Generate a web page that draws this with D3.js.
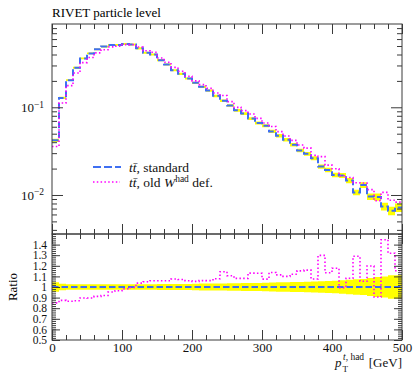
<!DOCTYPE html>
<meta charset="utf-8">
<body style="margin:0;background:#fff">
<svg width="415" height="375"></svg>
<script src="https://cdn.jsdelivr.net/npm/d3@7"></script>
<script>
  // 10 GeV bins, 0..500
  var binLow = d3.range(0, 500, 10);
  var binWidth = 10;

  var stdVals = [0.042, 0.128, 0.204, 0.283, 0.361, 0.412, 0.458, 0.492, 0.513, 0.515,
    0.527, 0.520, 0.470, 0.420, 0.400, 0.345, 0.308, 0.265, 0.241, 0.213,
    0.190, 0.171, 0.155, 0.135, 0.119, 0.105, 0.0924, 0.0847, 0.0743, 0.0662,
    0.0617, 0.0531, 0.0474, 0.0427, 0.0374, 0.0322, 0.0295, 0.0263, 0.0211, 0.0193,
    0.0169, 0.0167, 0.0146, 0.0107, 0.0130, 0.0096, 0.0095, 0.0074, 0.0066, 0.0072];

  var stdErr = [0.045, 0.030, 0.025, 0.025, 0.025, 0.025, 0.025, 0.025, 0.025, 0.025,
    0.026, 0.026, 0.027, 0.027, 0.027, 0.028, 0.028, 0.028, 0.029, 0.029,
    0.031, 0.032, 0.032, 0.033, 0.034, 0.035, 0.036, 0.037, 0.038, 0.038,
    0.040, 0.042, 0.044, 0.045, 0.047, 0.048, 0.050, 0.052, 0.055, 0.057,
    0.060, 0.064, 0.068, 0.072, 0.076, 0.085, 0.095, 0.100, 0.110, 0.110];

  var oldVals = [0.0357, 0.1119, 0.1765, 0.2462, 0.3235, 0.3692, 0.4177, 0.4526, 0.4889, 0.4970,
    0.5186, 0.5179, 0.4874, 0.4410, 0.4236, 0.3654, 0.3262, 0.2849, 0.2579, 0.2256,
    0.2001, 0.1813, 0.1643, 0.1455, 0.1361, 0.1161, 0.0999, 0.0916, 0.0840, 0.0748,
    0.0663, 0.0604, 0.0528, 0.0470, 0.0419, 0.0371, 0.0342, 0.0283, 0.0274, 0.0219,
    0.0199, 0.0166, 0.0158, 0.0138, 0.0137, 0.0115, 0.0086, 0.0107, 0.0087, 0.0083];

  var xMajor = [0, 100, 200, 300, 400, 500];
  var xMinor = d3.range(0, 501, 20);
  var yMajor = [0.01, 0.1];
  var yMinor = [0.004, 0.005, 0.006, 0.007, 0.008, 0.009,
    0.02, 0.03, 0.04, 0.05, 0.06, 0.07, 0.08, 0.09,
    0.2, 0.3, 0.4, 0.5, 0.6, 0.7, 0.8];
  var rMajor = [0.5, 0.6, 0.7, 0.8, 0.9, 1.0, 1.1, 1.2, 1.3, 1.4];
  var rMinor = d3.range(0.5, 1.501, 0.02);

  var blue = '#3e6ff2', magenta = '#ff00ff', yellow = '#ffff00', axisCol = '#3a3a3a';
  var serif = '"Liberation Serif", "DejaVu Serif", serif';

  var svg = d3.select('svg');
  var left = 52, right = 402, mainTop = 24, mainBottom = 234, ratioBottom = 340;

  var x = d3.scaleLinear().domain([0, 500]).range([left, right]);
  var y = d3.scaleLog().domain([0.00359, 0.891]).range([mainBottom, mainTop]);
  var yr = d3.scaleLinear().domain([0.5, 1.5]).range([ratioBottom, mainBottom]);

  // step points for a series
  function steps(vals, fy) {
    var pts = [];
    for (var i = 0; i < vals.length; i++) {
      pts.push({x: x(binLow[i]), y: fy(vals[i], i)});
      pts.push({x: x(binLow[i] + binWidth), y: fy(vals[i], i)});
    }
    return pts;
  }
  var line = d3.line().x(function (d) { return d.x; }).y(function (d) { return d.y; });

  function bandPts(fLo, fHi) {
    var pts = [];
    for (var i = 0; i < binLow.length; i++) {
      pts.push({x: x(binLow[i]), y0: fLo(i), y1: fHi(i)});
      pts.push({x: x(binLow[i] + binWidth), y0: fLo(i), y1: fHi(i)});
    }
    return pts;
  }
  var area = d3.area().x(function (d) { return d.x; })
    .y0(function (d) { return d.y0; }).y1(function (d) { return d.y1; });

  // ---- main panel
  var main = svg.append('g');
  main.append('path')
    .attr('d', area(bandPts(
      function (i) { return y(stdVals[i] * (1 - stdErr[i])); },
      function (i) { return y(stdVals[i] * (1 + stdErr[i])); })))
    .attr('fill', yellow);
  main.append('path')
    .attr('d', line(steps(stdVals, function (v) { return y(v); })))
    .attr('fill', 'none').attr('stroke', blue).attr('stroke-width', 2)
    .attr('stroke-dasharray', '6.5 3');
  main.append('path')
    .attr('d', line(steps(oldVals, function (v) { return y(v); })))
    .attr('fill', 'none').attr('stroke', magenta).attr('stroke-width', 1.6)
    .attr('stroke-dasharray', '1.5 2.3');

  // ---- ratio panel
  var rat = svg.append('g');
  rat.append('path')
    .attr('d', area(bandPts(
      function (i) { return yr(1 - stdErr[i]); },
      function (i) { return yr(1 + stdErr[i]); })))
    .attr('fill', yellow);
  rat.append('path')
    .attr('d', line(steps(stdVals, function (v, i) { return yr(stdVals[i] / stdVals[i]); })))
    .attr('fill', 'none').attr('stroke', blue).attr('stroke-width', 2)
    .attr('stroke-dasharray', '6.5 3');
  rat.append('path')
    .attr('d', line(steps(oldVals, function (v, i) { return yr(v / stdVals[i]); })))
    .attr('fill', 'none').attr('stroke', magenta).attr('stroke-width', 1.6)
    .attr('stroke-dasharray', '1.5 2.3');

  // ---- axes (inward ticks)
  function styleAxis(g, size) {
    g.select('.domain').remove();
    g.selectAll('.tick line').attr('stroke', axisCol);
    g.selectAll('text').attr('font-family', serif).attr('font-size', size || 13).attr('fill', '#111');
  }
  function addX(yPos, isTop, labels) {
    var mk = isTop ? d3.axisTop : d3.axisBottom;
    svg.append('g').attr('transform', 'translate(0,' + yPos + ')')
      .call(mk(x).tickValues(xMinor).tickSize(-5).tickFormat('')).call(styleAxis);
    svg.append('g').attr('transform', 'translate(0,' + yPos + ')')
      .call(mk(x).tickValues(xMajor).tickSize(-10).tickPadding(3)
        .tickFormat(labels ? d3.format('d') : '')).call(styleAxis);
  }
  addX(mainTop, true, false);
  addX(mainBottom, false, false);
  addX(mainBottom, true, false);
  addX(ratioBottom, false, true);

  [[d3.axisLeft, left], [d3.axisRight, right]].forEach(function (a) {
    svg.append('g').attr('transform', 'translate(' + a[1] + ',0)')
      .call(a[0](y).tickValues(yMinor).tickSize(-5).tickFormat('')).call(styleAxis);
    var g = svg.append('g').attr('transform', 'translate(' + a[1] + ',0)')
      .call(a[0](y).tickValues(yMajor).tickSize(-11).tickPadding(8)
        .tickFormat(a[1] === left ? function (d) { return '10'; } : '')).call(styleAxis);
    if (a[1] === left) {
      g.selectAll('.tick text').each(function (d) {
        d3.select(this).append('tspan').attr('dy', '-0.45em').attr('font-size', 9.5)
          .text('\u2212' + Math.round(-Math.log10(d)));
      });
    }
    svg.append('g').attr('transform', 'translate(' + a[1] + ',0)')
      .call(a[0](yr).tickValues(rMinor).tickSize(-4).tickFormat('')).call(styleAxis);
    svg.append('g').attr('transform', 'translate(' + a[1] + ',0)')
      .call(a[0](yr).tickValues(rMajor).tickSize(-8).tickPadding(5)
        .tickFormat(a[1] === left ? function (d) { return d3.format('.2~f')(d); } : ''))
      .call(styleAxis, 11.5);
  });

  // frames
  svg.append('rect').attr('x', left).attr('y', mainTop)
    .attr('width', right - left).attr('height', mainBottom - mainTop)
    .attr('fill', 'none').attr('stroke', axisCol);
  svg.append('rect').attr('x', left).attr('y', mainBottom)
    .attr('width', right - left).attr('height', ratioBottom - mainBottom)
    .attr('fill', 'none').attr('stroke', axisCol);

  // ---- texts
  svg.append('text').attr('x', left).attr('y', 17)
    .attr('font-family', serif).attr('font-size', 13).text('RIVET particle level');

  svg.append('text').attr('transform', 'translate(17,287) rotate(-90)')
    .attr('text-anchor', 'middle').attr('font-family', serif).attr('font-size', 13)
    .text('Ratio');

  var xl = svg.append('g').attr('font-family', serif).attr('fill', '#111');
  xl.append('text').attr('x', right).attr('y', 367).attr('text-anchor', 'end')
    .attr('font-size', 13).text('[GeV]');
  xl.append('text').attr('x', 335).attr('y', 367).attr('font-size', 13)
    .attr('font-style', 'italic').text('p');
  xl.append('text').attr('x', 342.5).attr('y', 372).attr('font-size', 9).text('T');
  var sup = xl.append('text').attr('x', 343).attr('y', 360).attr('font-size', 9.5);
  sup.append('tspan').attr('font-style', 'italic').text('t');
  sup.append('tspan').text(', had');

  // legend
  var leg = svg.append('g').attr('font-family', serif).attr('font-size', 13.5).attr('fill', '#111');
  leg.append('line').attr('x1', 93).attr('x2', 121).attr('y1', 167).attr('y2', 167)
    .attr('stroke', blue).attr('stroke-width', 2).attr('stroke-dasharray', '8 3');
  leg.append('line').attr('x1', 93).attr('x2', 120).attr('y1', 182).attr('y2', 182)
    .attr('stroke', magenta).attr('stroke-width', 1.6).attr('stroke-dasharray', '1.5 2.3');
  var t1 = leg.append('text').attr('x', 129).attr('y', 171.5);
  t1.append('tspan').attr('font-style', 'italic').text('tt\u0304');
  t1.append('tspan').text(', standard');
  var t2 = leg.append('text').attr('x', 129).attr('y', 186.5);
  t2.append('tspan').attr('font-style', 'italic').text('tt\u0304');
  t2.append('tspan').text(', old ');
  t2.append('tspan').attr('font-style', 'italic').text('W');
  t2.append('tspan').attr('font-size', 9.5).attr('dy', -5).text('had');
  t2.append('tspan').attr('dy', 5).text(' def.');
</script>
</body>
